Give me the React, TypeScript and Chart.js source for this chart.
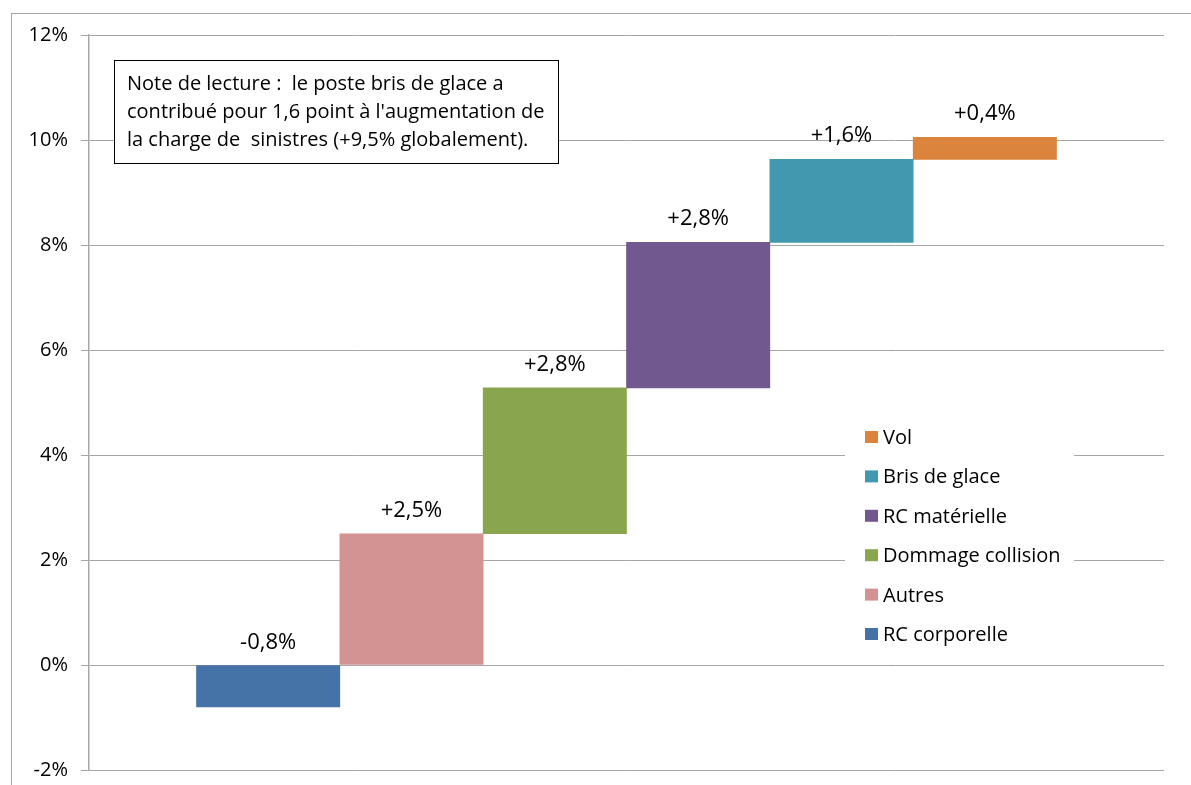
import React, { useEffect, useRef } from "react";
import { Chart, registerables } from "chart.js";

Chart.register(...registerables);

const seriesNames = ["RC corporelle", "Autres", "Dommage collision", "RC matérielle", "Bris de glace", "Vol"];
const barStarts = [0, 0, 2.5, 5.28, 8.05, 9.63];
const barEnds = [-0.8, 2.5, 5.28, 8.05, 9.63, 10.05];
const barPositions = [1.25, 2.25, 3.25, 4.25, 5.25, 6.25];
const seriesColors = ["#4572A7", "#D49393", "#89A54E", "#71588F", "#4198AF", "#DB843D"];
const yTicks = [-2, 0, 2, 4, 6, 8, 10, 12];
const noteLines = [
  "Note de lecture :  le poste bris de glace a",
  "contribué pour 1,6 point à l'augmentation de",
  "la charge de  sinistres (+9,5% globalement).",
];

const FONT = "'Open Sans', 'Liberation Sans', sans-serif";

function fmtDelta(v: number): string {
  const s = Math.abs(v).toFixed(1).replace(".", ",");
  return (v < 0 ? "-" : "+") + s + "%";
}

const decorPlugin = {
  id: "decor",
  beforeDraw(chart: any) {
    const ctx = chart.ctx;
    ctx.save();
    ctx.fillStyle = "#ffffff";
    ctx.fillRect(0, 0, chart.width, chart.height);
    ctx.strokeStyle = "#a6a6a6";
    ctx.lineWidth = 1;
    ctx.strokeRect(11.5, 13.5, chart.width + 20, chart.height + 20);
    ctx.restore();
  },
  afterDraw(chart: any) {
    const ctx = chart.ctx;
    ctx.save();
    // data labels
    ctx.font = `22px ${FONT}`;
    ctx.fillStyle = "#000";
    ctx.textAlign = "center";
    ctx.textBaseline = "alphabetic";
    chart.data.datasets.forEach((ds: any, i: number) => {
      const meta = chart.getDatasetMeta(i);
      const el = meta.data[0];
      if (!el) return;
      const top = Math.min(el.y, el.base);
      ctx.fillText(fmtDelta(barEnds[i] - barStarts[i]), el.x, top - 17);
    });

    // note box
    ctx.fillStyle = "#fff";
    ctx.fillRect(115, 60, 443, 103);
    ctx.strokeStyle = "#000";
    ctx.lineWidth = 1;
    ctx.strokeRect(114.5, 60.5, 444, 103);
    ctx.fillStyle = "#000";
    ctx.textAlign = "left";
    ctx.font = `20px ${FONT}`;
    noteLines.forEach((l, i) => ctx.fillText(l, 127, 90 + i * 28));

    // legend
    ctx.fillStyle = "#fff";
    ctx.fillRect(845, 418, 229, 234);
    const n = chart.data.datasets.length;
    for (let k = 0; k < n; k++) {
      const i = n - 1 - k;
      const ds = chart.data.datasets[i];
      const y = 431 + k * 39.4;
      ctx.fillStyle = ds.backgroundColor;
      ctx.fillRect(865, y, 13, 12);
      ctx.fillStyle = "#000";
      ctx.fillText(ds.label, 883, y + 13);
    }
    ctx.restore();
  },
};

export default function App() {
  const ref = useRef<HTMLCanvasElement>(null);
  useEffect(() => {
    if (!ref.current) return;
    const chart = new Chart(ref.current, {
      type: "bar",
      data: {
        datasets: seriesNames.map((name, i) => ({
          label: name,
          data: [{ x: barPositions[i], y: [barStarts[i], barEnds[i]] }],
          backgroundColor: seriesColors[i],
          borderWidth: 0,
          grouped: false,
          barPercentage: 1,
          categoryPercentage: 1,
        })),
      },
      options: {
        animation: false,
        responsive: false,
        maintainAspectRatio: false,
        layout: { padding: { left: 0, top: 35, right: 27, bottom: 15 } },
        plugins: { legend: { display: false }, tooltip: { enabled: false } },
        scales: {
          x: {
            type: "linear",
            min: 0,
            max: 7.5,
            display: false,
            offset: false,
            afterBuildTicks: (s: any) => {
              s.ticks = barPositions.map((v) => ({ value: v }));
            },
          },
          y: {
            min: -2,
            max: 12,
            afterFit: (s: any) => {
              s.width = 89;
              s.paddingTop = 0;
              s.paddingBottom = 0;
            },
            afterBuildTicks: (s: any) => {
              s.ticks = yTicks.map((v) => ({ value: v }));
            },
            ticks: {
              callback: (v: any) => v + "%",
              color: "#000",
              font: { family: FONT, size: 20 },
              padding: 13,
            },
            grid: { color: "#a6a6a6", tickLength: 8, lineWidth: 1 },
            border: { color: "#a6a6a6", width: 1.5 },
          },
        },
      },
      plugins: [decorPlugin],
    });
    return () => chart.destroy();
  }, []);
  return (
    <div style={{ position: "fixed", left: 0, top: 0, width: 1191, height: 785 }}>
      <canvas ref={ref} width={1191} height={785} style={{ width: 1191, height: 785, display: "block" }} />
    </div>
  );
}
